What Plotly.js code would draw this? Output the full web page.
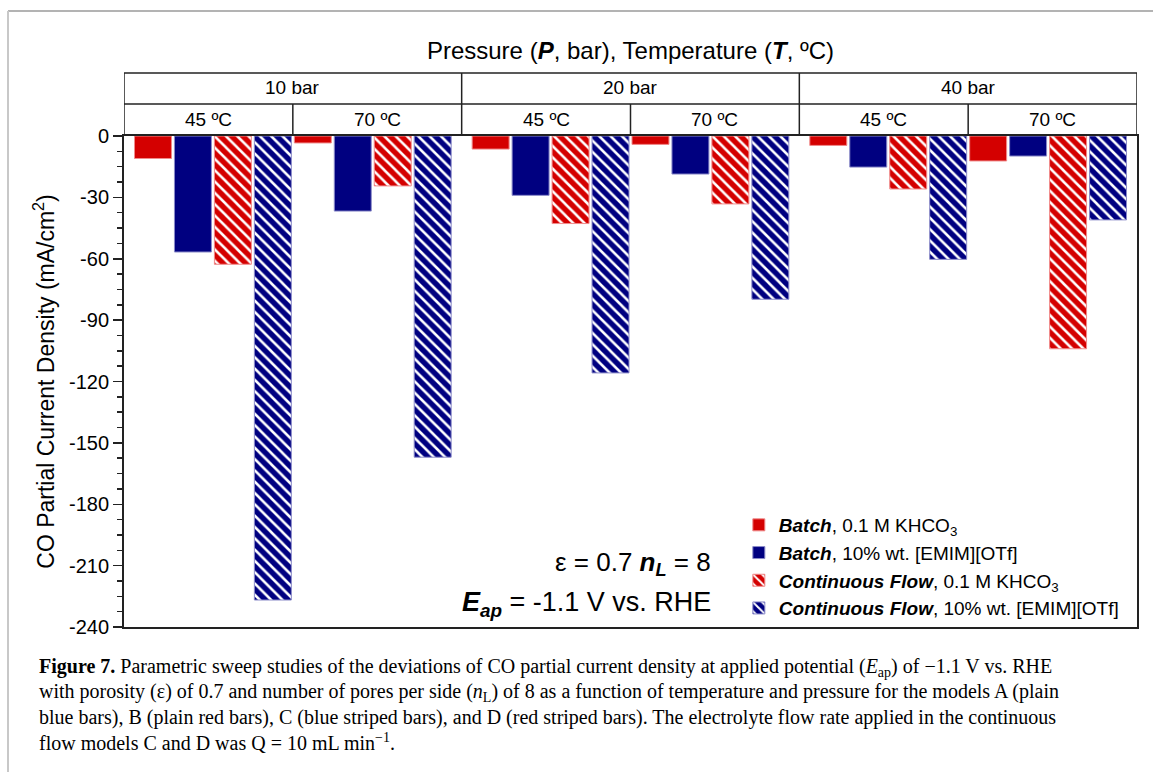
<!DOCTYPE html>
<html>
<head>
<meta charset="utf-8">
<script src="https://cdn.plot.ly/plotly-3.0.1.min.js"></script>
<style>html,body{margin:0;padding:0;background:#fff;}#chart{width:1153px;height:772px;}</style>
</head>
<body>
<div id="chart"></div>
<script>
// ---- data ----
const pressures = ['10 bar', '20 bar', '40 bar'];
const temps = ['45 ºC', '70 ºC'];
// order of conditions: 10bar/45, 10bar/70, 20bar/45, 20bar/70, 40bar/45, 40bar/70
const batchKHCO3 = [-11.0, -3.4, -6.4, -4.1, -4.6, -12.2];
const batchEMIM  = [-56.7, -36.7, -29.0, -18.6, -15.2, -9.8];
const flowKHCO3  = [-62.7, -24.4, -42.8, -33.2, -25.9, -104.0];
const flowEMIM   = [-226.8, -157.0, -115.8, -79.8, -60.3, -41.0];
const seriesNames = [
  '<b><i>Batch</i></b>, 0.1 M KHCO<sub>3</sub>',
  '<b><i>Batch</i></b>, 10% wt. [EMIM][OTf]',
  '<b><i>Continuous Flow</i></b>, 0.1 M KHCO<sub>3</sub>',
  '<b><i>Continuous Flow</i></b>, 10% wt. [EMIM][OTf]'
];
const yTickVals = [0, -30, -60, -90, -120, -150, -180, -210, -240];
const yTickText = ['0', '-30', '-60', '-90', '-120', '-150', '-180', '-210', '-240'];

// ---- layout helpers ----
const RED = '#d40000', NAVY = '#000080';
const G = 8.45;            // width of one pressure block in bar slots
function xPos(k, s) {
  const p = Math.floor(k / 2), t = k % 2;
  return p * G + (G - 8) / 2 + t * 4 + s + 0.5;
}
const seriesData = [batchKHCO3, batchEMIM, flowKHCO3, flowEMIM];
const seriesColor = [RED, NAVY, RED, NAVY];
const seriesLine = ['#f08a8a', '#8a8ac8', '#f08a8a', '#8a8ac8'];
const striped = [false, false, true, true];

const traces = seriesData.map((vals, s) => {
  const marker = {color: seriesColor[s], line: {color: seriesLine[s], width: 1}};
  if (striped[s]) {
    marker.pattern = {shape: '\\', fgcolor: '#ffffff', bgcolor: seriesColor[s], size: 8, solidity: 0.32, fillmode: 'replace'};
  }
  return {
    type: 'bar',
    name: seriesNames[s],
    x: vals.map((v, k) => xPos(k, s)),
    y: vals,
    width: 0.925,
    marker: marker,
    hoverinfo: 'y'
  };
});

// ---- header grid ----
const lineStyle = {color: '#222', width: 1.5};
const yTop = 1.1283, yMid = 1.0652, yBot = 1.0;
const shapes = [
  {type: 'line', xref: 'x', yref: 'paper', x0: 0, x1: 3 * G, y0: yTop, y1: yTop, line: lineStyle},
  {type: 'line', xref: 'x', yref: 'paper', x0: 0, x1: 3 * G, y0: yMid, y1: yMid, line: lineStyle},
  {type: 'line', xref: 'x', yref: 'paper', x0: 0, x1: 0, y0: yBot, y1: yTop, line: lineStyle},
  {type: 'line', xref: 'x', yref: 'paper', x0: 3 * G, x1: 3 * G, y0: yBot, y1: yTop, line: lineStyle},
  // frame of figure
  {type: 'line', xref: 'paper', yref: 'paper', x0: -0.1145, x1: 1.2, y0: 1.2546, y1: 1.2546, line: {color: '#9a9a9a', width: 1.5}},
  {type: 'line', xref: 'paper', yref: 'paper', x0: -0.1145, x1: -0.1145, y0: 1.2546, y1: -0.31, line: {color: '#c8c8c8', width: 2}}
];
const annotations = [];
pressures.forEach((p, i) => {
  if (i > 0) shapes.push({type: 'line', xref: 'x', yref: 'paper', x0: i * G, x1: i * G, y0: yBot, y1: yTop, line: lineStyle});
  shapes.push({type: 'line', xref: 'x', yref: 'paper', x0: i * G + G / 2, x1: i * G + G / 2, y0: yBot, y1: yMid, line: lineStyle});
  annotations.push({xref: 'x', yref: 'paper', x: i * G + G / 2, y: 1.0978, text: p, showarrow: false,
    font: {family: 'Arial, Liberation Sans', size: 19, color: '#000'}, xanchor: 'center', yanchor: 'middle'});
  temps.forEach((t, j) => {
    annotations.push({xref: 'x', yref: 'paper', x: i * G + G / 4 + j * G / 2, y: 1.0326, text: t, showarrow: false,
      font: {family: 'Arial, Liberation Sans', size: 19, color: '#000'}, xanchor: 'center', yanchor: 'middle'});
  });
});

// condition annotations
annotations.push({xref: 'paper', yref: 'paper', x: 0.5814, y: 0.1303, xanchor: 'right', yanchor: 'middle', showarrow: false,
  text: 'ε = 0.7 <b><i>n</i></b><sub><b><i>L</i></b></sub> = 8', font: {family: 'Arial, Liberation Sans', size: 26, color: '#000'}});
annotations.push({xref: 'paper', yref: 'paper', x: 0.5814, y: 0.0468, xanchor: 'right', yanchor: 'middle', showarrow: false,
  text: '<b><i>E</i></b><sub><b><i>ap</i></b></sub> = -1.1 V vs. RHE', font: {family: 'Arial, Liberation Sans', size: 27, color: '#000'}});

// caption
const caption = [
  '<b>Figure 7.</b> Parametric sweep studies of the deviations of CO partial current density at applied potential (<i>E</i><sub>ap</sub>) of −1.1 V vs. RHE',
  'with porosity (ε) of 0.7 and number of pores per side (<i>n</i><sub>L</sub>) of 8 as a function of temperature and pressure for the models A (plain',
  'blue bars), B (plain red bars), C (blue striped bars), and D (red striped bars). The electrolyte flow rate applied in the continuous',
  'flow models C and D was Q = 10 mL min<sup>−1</sup>.'
];
const capY = [-0.0815, -0.1324, -0.1833, -0.2342];
caption.forEach((c, i) => {
  annotations.push({xref: 'paper', yref: 'paper', x: -0.0859, y: capY[i], xanchor: 'left', yanchor: 'middle', showarrow: false,
    text: c, align: 'left', font: {family: 'Liberation Serif, Times New Roman, serif', size: 20, color: '#000'}});
});

const layout = {
  width: 1153, height: 772,
  margin: {l: 124, r: 16, t: 136, b: 145},
  paper_bgcolor: '#fff', plot_bgcolor: '#fff',
  font: {family: 'Arial, Liberation Sans', color: '#000'},
  title: {text: 'Pressure (<b><i>P</i></b>, bar), Temperature (<b><i>T</i></b>, ºC)', x: 0.5, xref: 'paper', y: 0.935, yref: 'container', yanchor: 'middle',
    font: {family: 'Arial, Liberation Sans', size: 24, color: '#000'}},
  barmode: 'overlay',
  showlegend: true,
  legend: {x: 0.987, xanchor: 'right', y: 0.0, yanchor: 'bottom', bgcolor: 'rgba(255,255,255,0)', borderwidth: 0,
    font: {family: 'Arial, Liberation Sans', size: 19, color: '#000'}, tracegroupgap: 0, traceorder: 'normal'},
  xaxis: {range: [0, 3 * G], showticklabels: false, ticks: '', showgrid: false, zeroline: false,
    showline: true, linecolor: '#222', linewidth: 2, mirror: true, fixedrange: true},
  yaxis: {range: [-240, 0], tickvals: yTickVals, ticktext: yTickText, ticks: 'outside', ticklen: 9, tickwidth: 1.5, tickcolor: '#222',
    minor: {dtick: 7.5, ticks: 'outside', ticklen: 5, tickwidth: 1.5, tickcolor: '#222', showgrid: false},
    showgrid: false, zeroline: false, showline: true, linecolor: '#222', linewidth: 2, mirror: true,
    tickfont: {family: 'Arial, Liberation Sans', size: 20, color: '#000'},
    title: {text: 'CO Partial Current Density (mA/cm<sup>2</sup>)', standoff: 8, font: {family: 'Arial, Liberation Sans', size: 23, color: '#000'}}},
  shapes: shapes,
  annotations: annotations
};

Plotly.newPlot('chart', traces, layout, {displayModeBar: false, staticPlot: true});
</script>
</body>
</html>
